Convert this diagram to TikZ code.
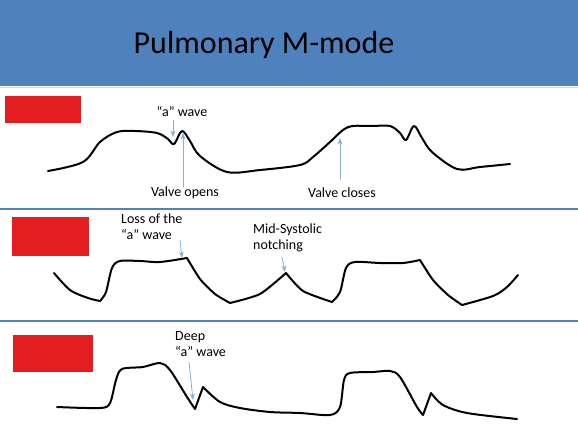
\documentclass[tikz,border=0pt]{standalone}
\usepackage{fontspec}
\setmainfont{Carlito}
\usetikzlibrary{positioning,arrows.meta}
\definecolor{hdrblue}{HTML}{4F81BD}
\definecolor{tagred}{HTML}{E41E20}
\definecolor{ptrblue}{HTML}{8AAED8}

\begin{document}
\begin{tikzpicture}[x=1pt,y=-1pt,>=Stealth,
  lbl/.style={font=\fontsize{14}{16}\selectfont,inner sep=0pt,align=left},
  ptr/.style={->,ptrblue,line width=0.8pt},
  trace/.style={line width=2pt,line cap=round,line join=round},
  tag/.style={fill=tagred,draw=none},
  rule/.style={hdrblue,line width=2pt}]
\useasboundingbox (0,0) rectangle (578,428);
% header
\fill[hdrblue] (0,0) rectangle (578,86);
\draw[black!15,line width=1pt] (0,87) -- (578,87);
\node[font=\fontsize{32}{36}\selectfont] (title) at (264,45) {Pulmonary M-mode};
% panel separators
\draw[rule] (0,209) -- (578,209);
\draw[rule] (0,321) -- (578,321);
% red tags
\fill[tag] (5,96) rectangle (81,123);
\fill[tag] (12,217) rectangle (89,256);
\fill[tag] (13,335) rectangle (93,372);

% panel 1: normal
\draw[trace] plot[smooth,tension=0.55] coordinates {
  (48,171) (83,162) (100,142) (117,132) (135,131) (157,133) (168,139)
  (174,144) (182,131) (190,141) (200,156) (227,172) (260,170) (300,165)
  (313,157) (330,142) (343,130) (353,126) (372,126) (390,126) (400,133)
  (406,140) (414,126) (422,138) (432,152) (457,169) (480,167) (510,164)};
\node[lbl] (awave) at (182,112) {“a” wave};
\node[lbl] (vopen) at (185,193) {Valve opens};
\node[lbl] (vclose) at (342,193) {Valve closes};
\coordinate (awtip) at (173,137);
\coordinate (votip) at (183,133);
\coordinate (vctip) at (340,138);
\draw[ptr] (awave.south -| awtip) ++(0,3) -- (awtip);
\draw[ptr] (vopen.north -| votip) -- (votip);
\draw[ptr] (vclose.north -| vctip) ++(0,-8) -- (vctip);

% panel 2: loss of a wave, notching
\draw[trace]
  plot[smooth,tension=0.5] coordinates {(54,273) (70,290) (88,298) (100,301)}
  -- plot[smooth,tension=0.5] coordinates {(100,301) (106,292) (112,268) (120,261) (140,261) (160,262) (187,258)}
  -- plot[smooth,tension=0.4] coordinates {(187,258) (200,279) (215,294) (230,303)}
  -- plot[smooth,tension=0.4] coordinates {(230,303) (260,294) (286,273)}
  -- plot[smooth,tension=0.4] coordinates {(286,273) (303,291) (332,302)}
  -- plot[smooth,tension=0.5] coordinates {(332,302) (340,292) (346,268) (355,262) (380,263) (403,263) (420,260)}
  -- plot[smooth,tension=0.4] coordinates {(420,260) (433,280) (448,295) (462,305)}
  -- plot[smooth,tension=0.5] coordinates {(462,305) (493,296) (507,287) (518,275)};
\node[lbl,anchor=north west] (loss) at (121,214) {Loss of the\\“a” wave};
\node[lbl,anchor=north west] (notch) at (253,224) {Mid-Systolic\\notching};
\coordinate (lstip) at (182,258);
\coordinate (nttip) at (285,272);
\draw[ptr] (180,240) -- (lstip);
\draw[ptr] (282,257) -- (nttip);

% panel 3: deep a wave
\draw[trace]
  plot[smooth,tension=0.5] coordinates {
  (57,407) (100,408) (110,403) (116,380) (122,369) (143,367) (160,363)
  (170,370) (187,397) (195,409)}
  -- (203,387)
  -- plot[smooth,tension=0.5] coordinates {(203,387) (220,402) (240,408) (270,412)
  (300,413) (330,415) (340,407) (344,380) (350,373) (373,372) (390,371)
  (400,377) (417,407) (423,415)}
  -- (431,393)
  -- plot[smooth,tension=0.5] coordinates {(431,393) (443,405) (467,413) (517,419)};
\node[lbl,anchor=north west] (deep) at (175,331) {Deep\\“a” wave};
\coordinate (dptip) at (193,400);
\draw[ptr] (189,362) -- (dptip);
\end{tikzpicture}
\end{document}
